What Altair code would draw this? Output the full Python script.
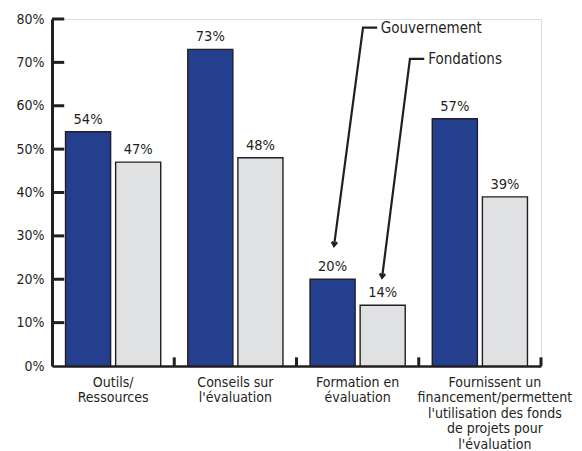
import altair as alt
import pandas as pd

# ---- data ----
categories = [
    "Outils/|Ressources",
    "Conseils sur|l'évaluation",
    "Formation en|évaluation",
    "Fournissent un|financement/permettent|l'utilisation des fonds|de projets pour|l'évaluation",
]
series = ["Gouvernement", "Fondations"]
gouvernement = [54, 73, 20, 57]
fondations = [47, 48, 14, 39]

y_ticks = [10, 20, 30, 40, 50, 60, 70, 80]
group_edges = [1, 2, 3, 4]

# annotation callouts (group units on x, percent on y)
ann_names = ["Gouvernement", "Fondations"]
ann_x = [[2.66, 2.544, 2.307], [3.045, 2.928, 2.70]]
ann_y = [[78.0, 78.0, 27.7], [70.8, 70.8, 20.4]]
ann_label_x = [2.69, 3.077]
ann_label_y = [78.0, 70.8]

INK = "#231F20"
BLUE = "#253F8F"
GREY = "#E0E1E3"
FONT = "Liberation Sans Narrow, DejaVu Sans Condensed, Roboto"

rows = []
for c, g, f in zip(categories, gouvernement, fondations):
    rows.append({"cat": c, "serie": series[0], "val": g, "lab": f"{g}%"})
    rows.append({"cat": c, "serie": series[1], "val": f, "lab": f"{f}%"})
bars_df = pd.DataFrame(rows)

line_rows = []
for name, xs, ys in zip(ann_names, ann_x, ann_y):
    for i, (xx, yy) in enumerate(zip(xs, ys)):
        line_rows.append({"name": name, "o": i, "x": xx, "y": yy})
lines_df = pd.DataFrame(line_rows)
heads_df = pd.DataFrame(
    [{"name": n, "x": xs[-1], "y": ys[-1], "ang": a}
     for n, xs, ys, a in zip(ann_names, ann_x, ann_y, [7, 7])]
)
texts_df = pd.DataFrame(
    [{"name": n, "x": x, "y": y} for n, x, y in zip(ann_names, ann_label_x, ann_label_y)]
)
ytick_df = pd.DataFrame({"v": y_ticks, "x0": 0.0, "x1": 0.1})
xtick_df = pd.DataFrame({"x": group_edges, "y0": 0.0, "y1": 2.0})

yscale = alt.Scale(domain=[0, 80], nice=False)
xband = alt.Scale(paddingInner=0, paddingOuter=0)
xq = alt.Scale(domain=[0, 4], nice=False, zero=False)
offscale = alt.Scale(paddingInner=0.1, paddingOuter=0.27)

bars = alt.Chart(bars_df).mark_bar(stroke=INK, strokeWidth=1.4).encode(
    x=alt.X("cat:N", sort=categories, scale=xband, title=None,
            axis=alt.Axis(labelExpr="split(datum.label, '|')", labelAngle=0,
                          ticks=False, tickSize=0, labelPadding=9,
                          labelOffset={"condition": {"test": "indexof(datum.value, 'Fournissent') == 0",
                                                     "value": 15}, "value": 0},
                          labelFontSize=14, labelLineHeight=15.5, labelLimit=400,
                          labelColor=INK, labelFont=FONT, domainColor=INK,
                          domainWidth=2.5, labelBaseline="top")),
    xOffset=alt.XOffset("serie:N", sort=series, scale=offscale),
    y=alt.Y("val:Q", scale=yscale, title=None,
            axis=alt.Axis(values=[0] + y_ticks, format="d", labelExpr="datum.value + '%'",
                          ticks=False, tickSize=0, labelPadding=8, grid=False,
                          labelFontSize=14, labelColor=INK, labelFont=FONT,
                          domainColor=INK, domainWidth=3)),
    color=alt.Color("serie:N", sort=series,
                    scale=alt.Scale(domain=series, range=[BLUE, GREY]), legend=None),
)

labels = alt.Chart(bars_df).mark_text(
    baseline="middle", dy=-12, fontSize=14.5, color=INK, font=FONT
).encode(
    x=alt.X("cat:N", sort=categories, scale=xband),
    xOffset=alt.XOffset("serie:N", sort=series, scale=offscale),
    y=alt.Y("val:Q", scale=yscale),
    text="lab:N",
)

base_bars = bars + labels

yt = alt.Chart(ytick_df).mark_rule(color=INK, strokeWidth=3).encode(
    x=alt.X("x0:Q", scale=xq, axis=None), x2="x1:Q",
    y=alt.Y("v:Q", scale=yscale),
)
xt = alt.Chart(xtick_df).mark_rule(color=INK, strokeWidth=3).encode(
    x=alt.X("x:Q", scale=xq, axis=None),
    y=alt.Y("y0:Q", scale=yscale), y2="y1:Q",
)
ann_lines = alt.Chart(lines_df).mark_line(
    color=INK, strokeWidth=2.2, strokeJoin="miter"
).encode(
    x=alt.X("x:Q", scale=xq, axis=None),
    y=alt.Y("y:Q", scale=yscale),
    detail="name:N", order="o:Q",
)
ann_heads = alt.Chart(heads_df).mark_point(
    shape="M-0.75,-1.1L0,0L0.75,-1.1", filled=False, stroke=INK, strokeWidth=2.4,
    size=50, opacity=1
).encode(
    x=alt.X("x:Q", scale=xq, axis=None),
    y=alt.Y("y:Q", scale=yscale),
    angle=alt.Angle("ang:Q", scale=None),
)
ann_text = alt.Chart(texts_df).mark_text(
    align="left", baseline="middle", fontSize=15, color=INK, font=FONT
).encode(
    x=alt.X("x:Q", scale=xq, axis=None),
    y=alt.Y("y:Q", scale=yscale),
    text="name:N",
)

overlay = yt + xt + ann_lines + ann_heads + ann_text

chart = alt.layer(base_bars, overlay).resolve_scale(
    x="independent"
).properties(
    width=489, height=347,
    autosize=alt.AutoSizeParams(type="none"),
    padding={"left": 44, "top": 11, "right": 33, "bottom": 86},
).configure_view(stroke=None).configure(background="white")

chart.save("out.html", embed_options={"renderer": "svg", "actions": False})
